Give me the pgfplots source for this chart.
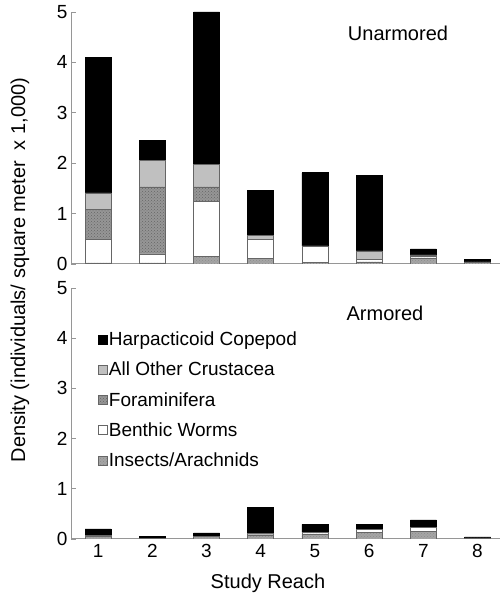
\documentclass[border=0pt]{standalone}
\usepackage{pgfplots}
\pgfplotsset{compat=1.18}
\usepackage{fontspec}
\setmainfont{Liberation Sans}
\usetikzlibrary{patterns}
\definecolor{axgray}{RGB}{150,150,150}
\definecolor{othergray}{RGB}{192,192,192}
\definecolor{foramgray}{RGB}{150,150,150}
\definecolor{insgray}{RGB}{165,165,165}
\pgfplotsset{
  panel/.style={
    scale only axis,
    width=429pt,
    ybar stacked,
    bar width=26pt,
    xmin=0.5, xmax=8.415,
    ymin=0, ymax=5,
    ytick={0,1,2,3,4,5},
    axis x line*=bottom,
    axis y line*=left,
    axis line style={-, draw=axgray, line width=1pt},
    tick style={draw=axgray, line width=0.8pt},
    tick align=inside,
    major tick length=5pt,
    /pgf/number format/assume math mode=true,
    tick label style={font=\fontsize{19}{22}\selectfont},
    legend image code/.code={\draw[#1] (0pt,-4.5pt) rectangle (9pt,4.5pt);},
  },
  harp/.style={fill=black, draw=black, line width=0.6pt},
  other/.style={fill=othergray, draw=black!60, line width=0.6pt},
  foram/.style={fill=foramgray, draw=black!60, line width=0.6pt, postaction={pattern=crosshatch dots, pattern color=black!60}},
  worms/.style={fill=white, draw=black!60, line width=0.6pt},
  insects/.style={fill=insgray, draw=black!60, line width=0.6pt, postaction={pattern=crosshatch dots, pattern color=black!45}},
}
\begin{document}
\begin{tikzpicture}
\path[use as bounding box] (0,0) rectangle (500pt,598pt);
% top panel: Unarmored
\begin{axis}[panel, at={(71pt,334pt)}, anchor=south west, height=252pt, xtick=\empty]
\addplot[insects] coordinates {(1,0.02) (2,0.02) (3,0.15) (4,0.11) (5,0.03) (6,0.04) (7,0.12) (8,0.04)};
\addplot[worms] coordinates {(1,0.47) (2,0.18) (3,1.09) (4,0.38) (5,0.33) (6,0.05) (7,0.03) (8,0)};
\addplot[foram] coordinates {(1,0.60) (2,1.33) (3,0.29) (4,0) (5,0) (6,0) (7,0) (8,0)};
\addplot[other] coordinates {(1,0.32) (2,0.53) (3,0.44) (4,0.07) (5,0) (6,0.17) (7,0.03) (8,0)};
\addplot[harp] coordinates {(1,2.69) (2,0.40) (3,3.03) (4,0.90) (5,1.45) (6,1.49) (7,0.12) (8,0.05)};
\end{axis}
% bottom panel: Armored
\begin{axis}[panel, at={(71pt,59pt)}, anchor=south west, height=251pt,
  xtick={1,...,8}, major x tick style={draw=none},
  xticklabel style={yshift=-2pt},
  reverse legend,
  legend cell align=left,
  legend style={at={(0.055,0.84)}, anchor=north west, draw=none, fill=none,
    font=\fontsize{19}{22}\selectfont, row sep=12pt,
    nodes={inner sep=1.5pt}}]
\addplot[insects] coordinates {(1,0.05) (2,0.01) (3,0.05) (4,0.08) (5,0.10) (6,0.13) (7,0.15) (8,0.02)};
\addplot[worms] coordinates {(1,0.02) (2,0) (3,0) (4,0) (5,0.03) (6,0.06) (7,0.08) (8,0)};
\addplot[foram] coordinates {(1,0) (2,0) (3,0) (4,0) (5,0) (6,0) (7,0) (8,0)};
\addplot[other] coordinates {(1,0) (2,0) (3,0) (4,0.04) (5,0) (6,0) (7,0) (8,0)};
\addplot[harp] coordinates {(1,0.13) (2,0.04) (3,0.07) (4,0.51) (5,0.16) (6,0.10) (7,0.15) (8,0.02)};
\legend{Insects/Arachnids, Benthic Worms, Foraminifera, All Other Crustacea, Harpacticoid Copepod}
\end{axis}
\node[font=\fontsize{20}{24}\selectfont] at (398pt,565pt) {Unarmored};
\node[font=\fontsize{20}{24}\selectfont] at (385pt,285pt) {Armored};
\node[font=\fontsize{20}{24}\selectfont, rotate=90] at (20pt,328pt) {Density (individuals/ square meter~ x 1,000)};
\node[font=\fontsize{20}{24}\selectfont] at (268pt,15pt) {Study Reach};
\end{tikzpicture}
\end{document}
